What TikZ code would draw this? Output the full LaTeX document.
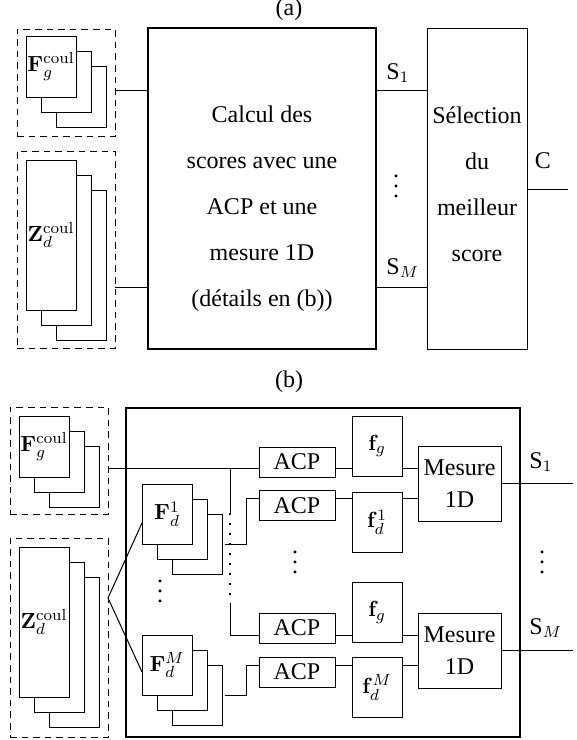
\documentclass[tikz,border=0pt,12pt]{standalone}
\usepackage[no-math]{fontspec}
\setmainfont{Liberation Serif}
\newcommand{\myvdots}{\vbox{\baselineskip5pt\lineskiplimit0pt\hbox{.}\hbox{.}\hbox{.}}}
\begin{document}
\begin{tikzpicture}[x=0.5pt,y=-0.5pt,
  box/.style={draw, line width=0.5pt, inner sep=0pt, outer sep=0pt, fill=white},
  sq/.style={box, minimum width=25pt, minimum height=30.5pt, font=\fontsize{11}{13}\selectfont},
  tall/.style={box, minimum width=25pt, minimum height=75pt, font=\fontsize{11}{13}\selectfont},
  bigbox/.style={draw, line width=1.1pt, inner sep=0pt, outer sep=0pt},
  dbox/.style={draw, dash pattern=on 3.3pt off 2.5pt, line width=0.5pt, inner sep=0pt, outer sep=0pt},
  acpbox/.style={box, minimum width=38pt, minimum height=15pt, font=\fontsize{12}{14}\selectfont},
  fbox/.style={box, minimum width=25pt, minimum height=30pt, font=\fontsize{11}{13}\selectfont},
  mbox/.style={box, minimum width=41.5pt, minimum height=37.5pt, align=center, font=\fontsize{12}{16}\selectfont},
  wire/.style={line width=0.5pt},
  dotline/.style={line width=0.6pt, dash pattern=on 1pt off 4pt},
  txt/.style={inner sep=0pt, font=\fontsize{12}{14}\selectfont}
]
\useasboundingbox (0,0) rectangle (577,740);

% ---------------- (a) ----------------
\node[txt] (lab-a) at (289,10) {(a)};
\node[dbox, minimum width=49pt, minimum height=53.5pt] (dfa) at (66,82.5) {};
\node[sq] (fga3) at (81,96.5) {};
\node[sq] (fga2) at (66,81.5) {};
\node[sq] (fga1) at (51,66.5) {$\mathbf{F}_g^{\mathrm{coul}}$};
\node[dbox, minimum width=49pt, minimum height=98.5pt] (dza) at (66,249.5) {};
\node[tall] (za3) at (81,265) {};
\node[tall] (za2) at (66,250) {};
\node[tall] (za1) at (51,235) {$\mathbf{Z}_d^{\mathrm{coul}}$};
\node[bigbox, minimum width=114pt, minimum height=160.5pt] (bigA) at (262,188.5) {};
\node[txt, align=center, font=\fontsize{12}{23}\selectfont] (tA) at (262,209)
  {Calcul des\\scores avec une\\ACP et une\\mesure 1D\\(détails en (b))};
\node[box, minimum width=50pt, minimum height=160.5pt] (selA) at (477,188.5) {};
\node[txt, align=center, font=\fontsize{12}{23}\selectfont] (tS) at (477,184)
  {Sélection\\du\\meilleur\\score};
\coordinate (ya1) at (0,90);
\coordinate (ya2) at (0,287);
\coordinate (outC) at (568,189);
\draw[wire] (dfa.east |- ya1) -- (bigA.west |- ya1);
\draw[wire] (dza.east |- ya2) -- (bigA.west |- ya2);
\draw[wire] (bigA.east |- ya1) -- (selA.west |- ya1);
\draw[wire] (bigA.east |- ya2) -- (selA.west |- ya2);
\draw[wire] (selA.east |- outC) -- (outC);
\node[txt, anchor=west] (s1a) at (386,73) {S$_1$};
\node[txt, anchor=west] (sma) at (386,268) {S$_M$};
\node[txt] (dotsa) at (396,186) {\myvdots};
\node[txt] (ca) at (543,161) {C};

% ---------------- (b) ----------------
\node[txt] (lab-b) at (289,382) {(b)};
\node[dbox, minimum width=49pt, minimum height=53.5pt] (dfb) at (59,460.5) {};
\node[sq] (fgb3) at (74,476.5) {};
\node[sq] (fgb2) at (59,461.5) {};
\node[sq] (fgb1) at (44,446.5) {$\mathbf{F}_g^{\mathrm{coul}}$};
\node[dbox, minimum width=49pt, minimum height=99.5pt] (dzb) at (59,637.5) {};
\node[tall] (zb3) at (74,652) {};
\node[tall] (zb2) at (59,637) {};
\node[tall] (zb1) at (44,622) {$\mathbf{Z}_d^{\mathrm{coul}}$};
\node[bigbox, minimum width=197pt, minimum height=164.5pt] (bigB) at (323,572.5) {};

\node[fbox] (fdb3) at (197,544) {};
\node[fbox] (fdb2) at (182,529) {};
\node[fbox] (fdb1) at (167,514) {$\mathbf{F}_d^{1}$};
\node[fbox] (fmb3) at (197,695) {};
\node[fbox] (fmb2) at (182,680) {};
\node[fbox] (fmb1) at (167,665) {$\mathbf{F}_d^{M}$};

\node[acpbox] (acp1) at (297,462) {ACP};
\node[acpbox] (acp2) at (297,505.5) {ACP};
\node[acpbox] (acp3) at (297,628) {ACP};
\node[acpbox] (acp4) at (297,672) {ACP};
\node[fbox] (fg1) at (377,446) {$\mathbf{f}_g$};
\node[fbox] (fd1) at (377,522) {$\mathbf{f}_d^1$};
\node[fbox] (fg2) at (377,612.5) {$\mathbf{f}_g$};
\node[fbox] (fdm) at (377,687.5) {$\mathbf{f}_d^M$};
\node[mbox] (mes1) at (459.5,483.5) {Mesure\\1D};
\node[mbox] (mes2) at (459.5,650.5) {Mesure\\1D};

\coordinate (yb1) at (0,468);
\coordinate (yb2) at (0,498);
\coordinate (yb3) at (0,635);
\coordinate (yb4) at (0,665);
\coordinate (o1) at (573,483);
\coordinate (o2) at (573,650);
\coordinate (kx) at (246,0);
\coordinate (br) at (230,468);
\coordinate (brA) at (230,513);
\coordinate (brB) at (230,603);
\coordinate (yv) at (0,598);
\coordinate (yv1) at (0,523);
\coordinate (yv2) at (0,672);

\draw[wire] (dfb.east |- yb1) -- (acp1.west |- yb1);
\draw[wire] (acp1.east |- yb1) -- (fg1.west |- yb1);
\draw[wire] (fg1.east |- yb1) -- (mes1.west |- yb1);
\draw[wire] (acp2.east |- yb2) -- (fd1.west |- yb2);
\draw[wire] (fd1.east |- yb2) -- (mes1.west |- yb2);
\draw[wire] (acp3.east |- yb3) -- (fg2.west |- yb3);
\draw[wire] (fg2.east |- yb3) -- (mes2.west |- yb3);
\draw[wire] (acp4.east |- yb4) -- (fdm.west |- yb4);
\draw[wire] (fdm.east |- yb4) -- (mes2.west |- yb4);
\draw[wire] (mes1.east |- o1) -- (o1);
\draw[wire] (mes2.east |- o2) -- (o2);

\draw[wire] (br) -- (brA);
\draw[dotline] (brA) -- (brB);
\draw[wire] (brB) -- (brB |- yb3) -- (acp3.west |- yb3);

\draw[wire] ([xshift=1.5pt]fdb3.east) -- (fdb3.east -| kx) -- (kx |- yb2) -- (acp2.west |- yb2);
\draw[wire] ([xshift=1.5pt]fmb3.east) -- (fmb3.east -| kx) -- (kx |- yb4) -- (acp4.west |- yb4);

\draw[wire] (fdb1.west |- yv1) -- (dzb.east |- yv) -- (fmb1.west |- yv2);

\node[txt, anchor=west] (s1b) at (529,462) {S$_1$};
\node[txt, anchor=west] (smb) at (529,628) {S$_M$};
\node[txt] (dotsb1) at (542,562) {\myvdots};
\node[txt] (dotsb2) at (295,562) {\myvdots};
\node[txt] (dotsb3) at (160,591) {\myvdots};
\end{tikzpicture}
\end{document}
